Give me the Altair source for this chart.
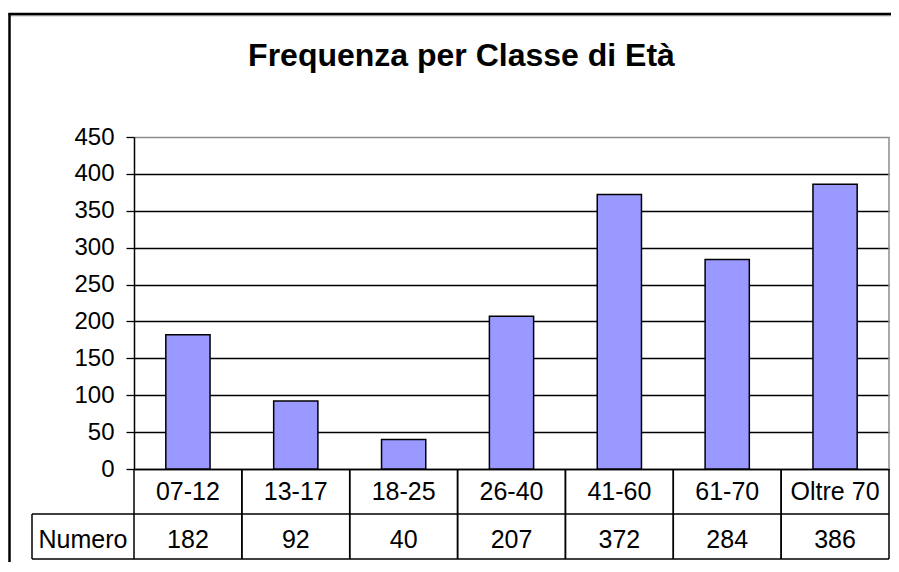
import altair as alt
import pandas as pd

# ---- data -------------------------------------------------------------
titolo = "Frequenza per Classe di Età"
categorie = ["07-12", "13-17", "18-25", "26-40", "41-60", "61-70", "Oltre 70"]
valori = [182, 92, 40, 207, 372, 284, 386]
y_ticks = [0, 50, 100, 150, 200, 250, 300, 350, 400, 450]
etichetta_riga = "Numero"

df = pd.DataFrame({"Classe": categorie, "Numero": valori})

W, H = 755, 332          # plot area
FONT = "Liberation Sans"
FS = 24
FS_T = 25

xscale = alt.Scale(domain=categorie, paddingInner=0, paddingOuter=0)
yscale = alt.Scale(domain=[0, 450], nice=False)

base = alt.Chart(df)

bars = base.mark_bar(
    width=alt.RelativeBandSize(0.41),
    fill="#9999FF", stroke="black", strokeWidth=1.5
).encode(
    x=alt.X("Classe:N", scale=xscale, sort=categorie,
            axis=alt.Axis(labels=False, ticks=False, title=None,
                          domainColor="black", domainWidth=1.5, grid=False)),
    y=alt.Y("Numero:Q", scale=yscale,
            axis=alt.Axis(values=y_ticks, title=None, grid=True,
                          gridColor=alt.condition("datum.value == 450",
                                                  alt.value("#8c8c8c"),
                                                  alt.value("black")),
                          gridWidth=1.3,
                          domainColor="black", domainWidth=1.5,
                          tickColor="black", tickSize=8, tickWidth=1.3,
                          labelFont=FONT, labelFontSize=FS, labelColor="black",
                          labelPadding=12)),
)

one = alt.Data(values=[{}])

# right border of plot area (gray)
right_border = alt.Chart(one).mark_rule(color="#8c8c8c", strokeWidth=1.5).encode(
    x=alt.value(W), y=alt.value(0), y2=alt.value(H))

# table vertical lines
vlines0 = base.mark_rule(color="black", strokeWidth=1.5).encode(
    x=alt.X("Classe:N", scale=xscale, sort=categorie, bandPosition=0),
    y=alt.value(H), y2=alt.value(422))
vlines1 = base.mark_rule(color="black", strokeWidth=1.5).encode(
    x=alt.X("Classe:N", scale=xscale, sort=categorie, bandPosition=1),
    y=alt.value(H), y2=alt.value(422))

# table horizontal lines and row header cell
h1 = alt.Chart(one).mark_rule(color="black", strokeWidth=1.5).encode(
    x=alt.value(-102), x2=alt.value(W), y=alt.value(377))
h2 = alt.Chart(one).mark_rule(color="black", strokeWidth=1.5).encode(
    x=alt.value(-102), x2=alt.value(W), y=alt.value(422))
vleft = alt.Chart(one).mark_rule(color="black", strokeWidth=1.5).encode(
    x=alt.value(-102), y=alt.value(377), y2=alt.value(422))

# table texts
cat_text = base.mark_text(font=FONT, fontSize=FS_T, color="black",
                          baseline="alphabetic", align="center").encode(
    x=alt.X("Classe:N", scale=xscale, sort=categorie, bandPosition=0.5),
    y=alt.value(363), text="Classe:N")
val_text = base.mark_text(font=FONT, fontSize=FS_T, color="black",
                          baseline="alphabetic", align="center").encode(
    x=alt.X("Classe:N", scale=xscale, sort=categorie, bandPosition=0.5),
    y=alt.value(411), text="Numero:Q")
row_label = alt.Chart(alt.Data(values=[{"t": etichetta_riga}])).mark_text(
    font=FONT, fontSize=FS_T, color="black", baseline="alphabetic", align="center"
).encode(x=alt.value(-51), y=alt.value(411), text="t:N")

# title
title_txt = alt.Chart(alt.Data(values=[{"t": titolo}])).mark_text(
    font=FONT, fontSize=32, fontWeight="bold", color="black",
    baseline="alphabetic", align="center"
).encode(x=alt.value(327.5), y=alt.value(-71.5), text="t:N")

# outer chart frame
frame_top = alt.Chart(one).mark_rule(color="black", strokeWidth=2.5).encode(
    x=alt.value(-125.5), x2=alt.value(W + 10), y=alt.value(-123))
frame_shadow = alt.Chart(one).mark_rule(color="#9a9a9a", strokeWidth=1).encode(
    x=alt.value(-124), x2=alt.value(W + 10), y=alt.value(-121.2))
frame_left = alt.Chart(one).mark_rule(color="black", strokeWidth=2.5).encode(
    x=alt.value(-124.5), y=alt.value(-124), y2=alt.value(H + 120))

chart = alt.layer(
    frame_shadow, frame_top, frame_left, title_txt,
    bars, right_border, vlines0, vlines1, h1, h2, vleft,
    cat_text, val_text, row_label,
).properties(
    width=W, height=H,
    autosize=alt.AutoSizeParams(type="none"),
    padding={"left": 126, "top": 129, "right": 2, "bottom": 93},
    background="white",
).configure_view(stroke=None)

chart.save("out.html", embed_options={"renderer": "svg", "actions": False})
